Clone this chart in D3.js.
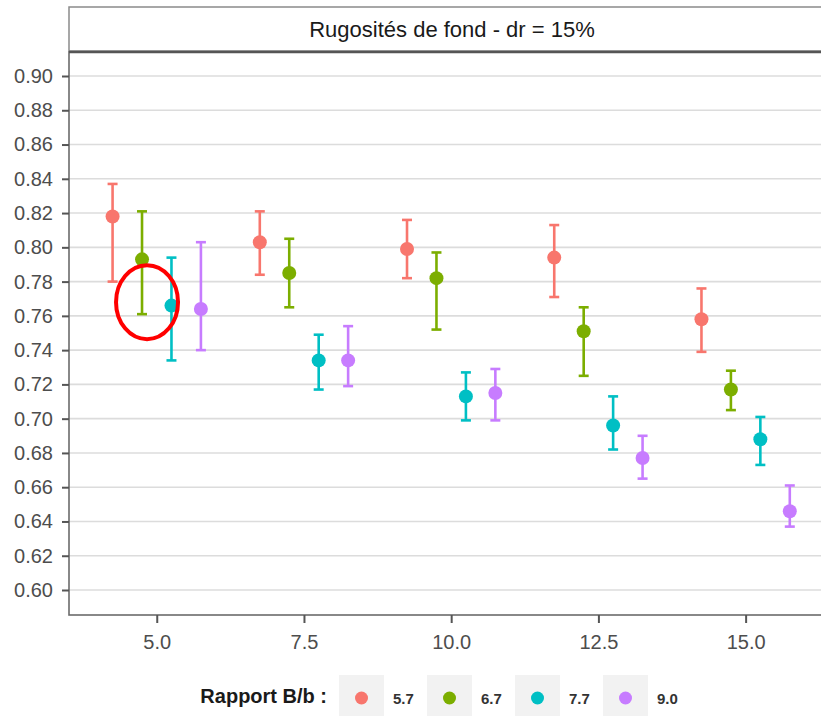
<!DOCTYPE html>
<html>
<head>
<meta charset="utf-8">
<script src="https://cdn.jsdelivr.net/npm/d3@7"></script>
<style>
  html, body { margin: 0; padding: 0; background: #ffffff; }
  svg { display: block; font-family: "Liberation Sans", Arial, sans-serif; }
</style>
</head>
<body>
<div id="chart-area"></div>
<script>

// x positions of the groups and the series (Rapport B/b)
const groups = [5.0, 7.5, 10.0, 12.5, 15.0];
const ratios = ["5.7", "6.7", "7.7", "9.0"];
const dodge = [-0.75, -0.25, 0.25, 0.75];
const colours = ["#F8766D", "#7CAE00", "#00BFC4", "#C77CFF"];

// mean values and interval bounds, one array per series
const mean57 = [0.818, 0.803, 0.799, 0.794, 0.758];
const low57  = [0.780, 0.784, 0.782, 0.771, 0.739];
const high57 = [0.837, 0.821, 0.816, 0.813, 0.776];

const mean67 = [0.793, 0.785, 0.782, 0.751, 0.717];
const low67  = [0.761, 0.765, 0.752, 0.725, 0.705];
const high67 = [0.821, 0.805, 0.797, 0.765, 0.728];

const mean77 = [0.766, 0.734, 0.713, 0.696, 0.688];
const low77  = [0.734, 0.717, 0.699, 0.682, 0.673];
const high77 = [0.794, 0.749, 0.727, 0.713, 0.701];

const mean90 = [0.764, 0.734, 0.715, 0.677, 0.646];
const low90  = [0.740, 0.719, 0.699, 0.665, 0.637];
const high90 = [0.803, 0.754, 0.729, 0.690, 0.661];

// axis ticks
const yTicks = [0.60, 0.62, 0.64, 0.66, 0.68, 0.70, 0.72, 0.74, 0.76, 0.78, 0.80, 0.82, 0.84, 0.86, 0.88, 0.90];
const xTicks = [5.0, 7.5, 10.0, 12.5, 15.0];

const stripTitle = "Rugosités de fond - dr = 15%";
const legendTitle = "Rapport B/b :";

// the hand drawn red circle (x, y in data units)
const annotation = [{x: 4.835, y: 0.768}];


class ErrorBarChart {

constructor(parentElement) {
	this.parentElement = parentElement;

	let means = [mean57, mean67, mean77, mean90];
	let lows = [low57, low67, low77, low90];
	let highs = [high57, high67, high77, high90];

	this.data = [];
	ratios.forEach((r, i) => {
		groups.forEach((g, j) => {
			this.data.push({ratio: r, x: g + dodge[i], mean: means[i][j], low: lows[i][j], high: highs[i][j]});
		});
	});

	this.colorScale = d3.scaleOrdinal()
		.domain(ratios)
		.range(colours);
}

	initVis() {
		let vis = this;

		vis.width = 821;
		vis.height = 716;

		vis.panel = {left: 69, top: 52, right: 823, bottom: 615};

		vis.svg = d3.select("#" + vis.parentElement).append("svg")
			.attr("width", vis.width)
			.attr("height", vis.height);

		vis.x = d3.scaleLinear()
			.domain([3.51, 16.28])
			.range([vis.panel.left, 821]);

		vis.y = d3.scaleLinear()
			.domain([0.60, 0.90])
			.range([590, 76]);

		// strip on top
		vis.svg.append("rect")
			.attr("x", vis.panel.left)
			.attr("y", 7)
			.attr("width", vis.panel.right - vis.panel.left)
			.attr("height", 44)
			.attr("fill", "#ffffff")
			.attr("stroke", "#8a8a8a")
			.attr("stroke-width", 1.5);

		vis.svg.append("text")
			.attr("x", 452)
			.attr("y", 37)
			.attr("text-anchor", "middle")
			.attr("font-size", 22)
			.attr("fill", "#1a1a1a")
			.text(stripTitle);

		// grid
		vis.svg.append("g")
			.attr("class", "grid")
			.selectAll("line")
			.data(yTicks)
			.enter().append("line")
			.attr("x1", vis.panel.left)
			.attr("x2", vis.panel.right)
			.attr("y1", d => vis.y(d))
			.attr("y2", d => vis.y(d))
			.attr("stroke", "#dcdcdc")
			.attr("stroke-width", 1.6);

		// panel border
		vis.svg.append("rect")
			.attr("x", vis.panel.left)
			.attr("y", vis.panel.top)
			.attr("width", vis.panel.right - vis.panel.left)
			.attr("height", vis.panel.bottom - vis.panel.top)
			.attr("fill", "none")
			.attr("stroke", "#6b6b6b")
			.attr("stroke-width", 1.6);

		vis.svg.append("line")
			.attr("x1", vis.panel.left)
			.attr("x2", vis.panel.right)
			.attr("y1", vis.panel.top)
			.attr("y2", vis.panel.top)
			.attr("stroke", "#555555")
			.attr("stroke-width", 2.6);

		// axes
		let yAxis = d3.axisLeft(vis.y)
			.tickValues(yTicks)
			.tickFormat(d3.format(".2f"))
			.tickSize(7)
			.tickPadding(9);

		vis.svg.append("g")
			.attr("class", "y-axis axis")
			.attr("transform", "translate(" + vis.panel.left + ",0)")
			.call(yAxis);

		let xAxis = d3.axisBottom(vis.x)
			.tickValues(xTicks)
			.tickFormat(d3.format(".1f"))
			.tickSize(8)
			.tickPadding(12);

		vis.svg.append("g")
			.attr("class", "x-axis axis")
			.attr("transform", "translate(0," + vis.panel.bottom + ")")
			.call(xAxis);

		vis.svg.selectAll(".axis .domain").remove();
		vis.svg.selectAll(".axis line")
			.attr("stroke", "#555555")
			.attr("stroke-width", 2);
		vis.svg.selectAll(".axis text")
			.attr("font-family", "Liberation Sans, Arial, sans-serif")
			.attr("font-size", 20)
			.attr("fill", "#4d4d4d");

		vis.drawLegend();
		vis.updateVis();
	}

	drawLegend() {
		let vis = this;

		let legend = vis.svg.append("g").attr("class", "legend");

		legend.append("text")
			.attr("x", 327)
			.attr("y", 703)
			.attr("text-anchor", "end")
			.attr("font-size", 20)
			.attr("font-weight", "bold")
			.attr("fill", "#1a1a1a")
			.text(legendTitle);

		let keys = legend.selectAll(".key")
			.data(ratios)
			.enter().append("g")
			.attr("class", "key")
			.attr("transform", (d, i) => "translate(" + (339 + i * 88) + ",675)");

		keys.append("rect")
			.attr("width", 45)
			.attr("height", 45)
			.attr("fill", "#f2f2f2");

		keys.append("circle")
			.attr("cx", 22.5)
			.attr("cy", 23)
			.attr("r", 6.5)
			.attr("fill", d => vis.colorScale(d));

		keys.append("text")
			.attr("x", 54)
			.attr("y", 29)
			.attr("font-size", 15)
			.attr("font-weight", "bold")
			.attr("fill", "#333333")
			.text(d => d);
	}

	updateVis() {
		let vis = this;

		let bars = vis.svg.append("g").attr("class", "bars")
			.selectAll("g")
			.data(vis.data)
			.enter().append("g")
			.attr("stroke", d => vis.colorScale(d.ratio))
			.attr("stroke-width", 2.6);

		bars.append("line")
			.attr("x1", d => vis.x(d.x))
			.attr("x2", d => vis.x(d.x))
			.attr("y1", d => vis.y(d.low))
			.attr("y2", d => vis.y(d.high));

		bars.append("line")
			.attr("x1", d => vis.x(d.x) - 5)
			.attr("x2", d => vis.x(d.x) + 5)
			.attr("y1", d => vis.y(d.low))
			.attr("y2", d => vis.y(d.low));

		bars.append("line")
			.attr("x1", d => vis.x(d.x) - 5)
			.attr("x2", d => vis.x(d.x) + 5)
			.attr("y1", d => vis.y(d.high))
			.attr("y2", d => vis.y(d.high));

		vis.svg.append("g").attr("class", "points")
			.selectAll("circle")
			.data(vis.data)
			.enter().append("circle")
			.attr("cx", d => vis.x(d.x))
			.attr("cy", d => vis.y(d.mean))
			.attr("r", 7)
			.attr("fill", d => vis.colorScale(d.ratio));

		// red marker
		vis.svg.append("g").attr("class", "annotation")
			.selectAll("ellipse")
			.data(annotation)
			.enter().append("ellipse")
			.attr("cx", d => vis.x(d.x))
			.attr("cy", d => vis.y(d.y))
			.attr("rx", 31)
			.attr("ry", 37)
			.attr("fill", "none")
			.attr("stroke", "#ff0000")
			.attr("stroke-width", 4);
	}
}

let chart = new ErrorBarChart("chart-area");
chart.initVis();

</script>
</body>
</html>
